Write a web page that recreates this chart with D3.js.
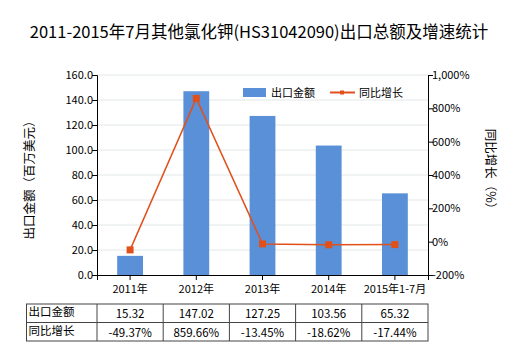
<!DOCTYPE html>
<html>
<head>
<meta charset="utf-8">
<script src="https://cdn.jsdelivr.net/npm/d3@7"></script>
<style>
  body { margin: 0; background: #fff; }
  text { font-family: "Noto Sans CJK SC", "Noto Sans", sans-serif; fill: #000; }
</style>
</head>
<body>
<div id="chart"></div>
<script>
const years = ["2011年", "2012年", "2013年", "2014年", "2015年1-7月"];
const exportValues = [15.32, 147.02, 127.25, 103.56, 65.32];
const growthRates = [-49.37, 859.66, -13.45, -18.62, -17.44];
const leftTicks = [0, 20, 40, 60, 80, 100, 120, 140, 160];
const rightTicks = [-200, 0, 200, 400, 600, 800, 1000];

const width = 520, height = 350;
const margin = { top: 75, right: 92, bottom: 75, left: 97 };
const plotW = width - margin.left - margin.right;
const plotH = height - margin.top - margin.bottom;
const hyphen = s => s.replace(/\u2212/g, "-");

const svg = d3.select("#chart").append("svg").attr("width", width).attr("height", height);

svg.append("text")
  .attr("x", 259).attr("y", 38)
  .attr("text-anchor", "middle")
  .style("font-size", "16.5px")
  .text("2011-2015年7月其他氯化钾(HS31042090)出口总额及增速统计");

const g = svg.append("g").attr("transform", `translate(${margin.left},${margin.top})`);

const x = d3.scaleBand().domain(years).range([0, plotW]);
const y = d3.scaleLinear().domain([0, 160]).range([plotH, 0]);
const y2 = d3.scaleLinear().domain([-200, 1000]).range([plotH, 0]);

// gridlines
g.append("g").selectAll("line").data(leftTicks.slice(1)).join("line")
  .attr("x1", 0).attr("x2", plotW)
  .attr("y1", d => y(d)).attr("y2", d => y(d))
  .attr("stroke", "#e3e8e8").attr("stroke-width", 1);

// bars
const barW = x.bandwidth() * 0.39;
g.append("g").selectAll("rect").data(exportValues).join("rect")
  .attr("x", (d, i) => x(years[i]) + x.bandwidth() / 2 - barW / 2)
  .attr("y", d => y(d))
  .attr("width", barW)
  .attr("height", d => plotH - y(d))
  .attr("fill", "#5990d8");

// growth line
const line = d3.line()
  .x((d, i) => x(years[i]) + x.bandwidth() / 2)
  .y(d => y2(d));
g.append("path").datum(growthRates)
  .attr("fill", "none").attr("stroke", "#e1501b").attr("stroke-width", 1.5)
  .attr("d", line);
g.append("g").selectAll("rect").data(growthRates).join("rect")
  .attr("x", (d, i) => x(years[i]) + x.bandwidth() / 2 - 3.5)
  .attr("y", d => y2(d) - 3.5)
  .attr("width", 7).attr("height", 7)
  .attr("fill", "#e1501b");

// axes
const leftAxis = g.append("g")
  .call(d3.axisLeft(y).tickValues(leftTicks).tickFormat(d3.format(".1f")).tickSizeOuter(0).tickSize(5));
const rightAxis = g.append("g").attr("transform", `translate(${plotW},0)`)
  .call(d3.axisRight(y2).tickValues(rightTicks).tickFormat(d => hyphen(d3.format(",")(d)) + "%").tickSizeOuter(0).tickSize(5));
const bottomAxis = g.append("g").attr("transform", `translate(0,${plotH})`)
  .call(d3.axisBottom(x).tickSizeOuter(0).tickSize(5));
[leftAxis, rightAxis, bottomAxis].forEach(a => {
  a.selectAll("path, line").attr("stroke", "#000");
  a.selectAll("text").style("font-size", "11px").attr("fill", "#000");
});
leftAxis.selectAll("text").attr("x", -4);
rightAxis.selectAll("text").attr("x", 4);
bottomAxis.selectAll("text").attr("dy", "0.9em");

// axis titles
svg.append("text")
  .attr("transform", `translate(34,${margin.top + plotH / 2 + 2}) rotate(-90)`)
  .attr("text-anchor", "middle").style("font-size", "12.5px")
  .text("出口金额（百万美元）");
svg.append("text")
  .attr("transform", `translate(486,${margin.top + plotH / 2 - 3}) rotate(90)`)
  .attr("text-anchor", "middle").style("font-size", "12.5px")
  .text("同比增长（%）");

// legend
const lg = svg.append("g");
lg.append("rect").attr("x", 243).attr("y", 88).attr("width", 23).attr("height", 9).attr("fill", "#5990d8");
lg.append("text").attr("x", 271).attr("y", 97).style("font-size", "11px").text("出口金额");
lg.append("line").attr("x1", 330).attr("x2", 355).attr("y1", 92.5).attr("y2", 92.5)
  .attr("stroke", "#e1501b").attr("stroke-width", 2);
lg.append("rect").attr("x", 340).attr("y", 90.5).attr("width", 4).attr("height", 4).attr("fill", "#e1501b");
lg.append("text").attr("x", 359).attr("y", 97).style("font-size", "11px").text("同比增长");

// data table
const tableTop = 304, rowH = 18.5, labelX = 26.5;
const rows = [
  { label: "出口金额", values: exportValues.map(d => d3.format(".2f")(d)) },
  { label: "同比增长", values: growthRates.map(d => hyphen(d3.format(".2f")(d)) + "%") }
];
const tg = svg.append("g");
const edges = [labelX, margin.left, ...years.map(yr => margin.left + x(yr) + x.bandwidth())];
tg.append("rect")
  .attr("x", labelX).attr("y", tableTop)
  .attr("width", margin.left + plotW - labelX).attr("height", rowH * 2)
  .attr("fill", "none").attr("stroke", "#444");
tg.append("line").attr("x1", labelX).attr("x2", margin.left + plotW)
  .attr("y1", tableTop + rowH).attr("y2", tableTop + rowH).attr("stroke", "#444");
tg.selectAll("line.v").data(edges.slice(1, -1)).join("line").attr("class", "v")
  .attr("x1", d => d).attr("x2", d => d)
  .attr("y1", tableTop).attr("y2", tableTop + rowH * 2).attr("stroke", "#444");
rows.forEach((r, ri) => {
  tg.append("text").attr("x", labelX + 2).attr("y", tableTop + ri * rowH + 12)
    .style("font-size", "11.5px").text(r.label);
  r.values.forEach((v, i) => {
    tg.append("text")
      .attr("x", margin.left + x(years[i]) + x.bandwidth() / 2)
      .attr("y", tableTop + ri * rowH + 14)
      .attr("text-anchor", "middle").style("font-size", "11.5px").text(v);
  });
});
</script>
</body>
</html>
